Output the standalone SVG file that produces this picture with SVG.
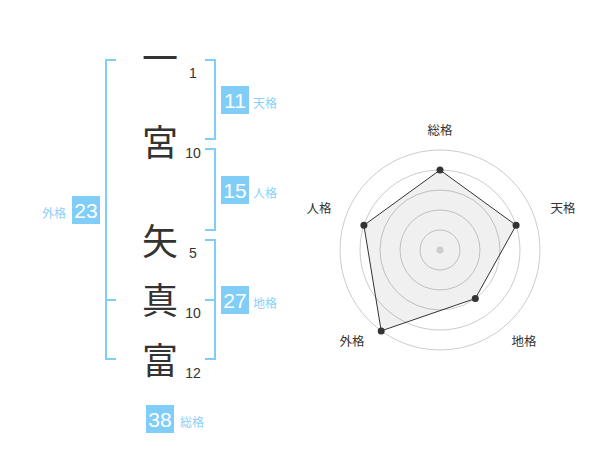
<svg xmlns="http://www.w3.org/2000/svg" width="600" height="470" viewBox="0 0 600 470">
<style>
.k{font-family:"Noto Sans CJK JP","Noto Sans CJK SC",sans-serif;font-size:36px;fill:#333;text-anchor:middle}
.n{font-family:"Liberation Sans",Arial,sans-serif;font-size:14px;fill:#333;text-anchor:middle}
.br{fill:none;stroke:#80cdf8;stroke-width:2}
.box{fill:#80cdf8}
.bn{font-family:"Liberation Sans",Arial,sans-serif;font-size:21px;fill:#fff;text-anchor:middle}
.bl{font-family:"Noto Sans CJK JP","Noto Sans CJK SC",sans-serif;font-size:12px;fill:#8ad0f8}
.ring{fill:none;stroke:#ccc;stroke-width:1}
.rl{font-family:"Noto Sans CJK JP","Noto Sans CJK SC",sans-serif;font-size:12.5px;fill:#333;text-anchor:middle}
.dot{fill:#333}
</style>
<rect width="600" height="470" fill="#fff"/>
<g id="chars">
<text class="k" x="160" y="72">一</text>
<text class="k" x="160" y="156">宮</text>
<text class="k" x="160" y="255">矢</text>
<text class="k" x="160" y="314">真</text>
<text class="k" x="160" y="374">富</text>
</g>
<g id="strokes">
<text class="n" x="193" y="78">1</text>
<text class="n" x="193" y="158">10</text>
<text class="n" x="193" y="258">5</text>
<text class="n" x="193" y="318">10</text>
<text class="n" x="193" y="378">12</text>
</g>
<g id="connectors">
<path class="br" d="M116,60 H106 V359 H116 M106,300 H116"/>
<path class="br" d="M205,60 H215 V139 H205"/>
<path class="br" d="M205,149 H215 V230 H205"/>
<path class="br" d="M205,240 H215 V359 H205 M215,300 H205"/>
</g>
<g id="tenkaku">
<rect class="box" x="221" y="86" width="28" height="28"/>
<text class="bn" x="235" y="107.5">11</text>
<text class="bl" x="253" y="108">天格</text>
</g>
<g id="jinkaku">
<rect class="box" x="221" y="176" width="28" height="28"/>
<text class="bn" x="235" y="197.5">15</text>
<text class="bl" x="253" y="198">人格</text>
</g>
<g id="gaikaku">
<rect class="box" x="72" y="196" width="28" height="28"/>
<text class="bn" x="86" y="217.5">23</text>
<text class="bl" x="42" y="218">外格</text>
</g>
<g id="chikaku">
<rect class="box" x="221" y="286" width="28" height="28"/>
<text class="bn" x="235" y="307.5">27</text>
<text class="bl" x="253" y="308">地格</text>
</g>
<g id="soukaku">
<rect class="box" x="146" y="405" width="28" height="28"/>
<text class="bn" x="160" y="426.5">38</text>
<text class="bl" x="180" y="427">総格</text>
</g>
<g id="radar">
<circle class="ring" cx="440" cy="250" r="20"/>
<circle class="ring" cx="440" cy="250" r="40"/>
<circle class="ring" cx="440" cy="250" r="60"/>
<circle class="ring" cx="440" cy="250" r="80"/>
<circle class="ring" cx="440" cy="250" r="100"/>
<polygon points="440,170 516.1,225.3 475.3,298.5 381.2,330.9 363.9,225.3" fill="#000" fill-opacity="0.06" stroke="#333" stroke-width="1"/>
<circle cx="440" cy="250" r="3.5" fill="#ccc"/>
<circle class="dot" cx="440" cy="170" r="3.5"/>
<circle class="dot" cx="516.1" cy="225.3" r="3.5"/>
<circle class="dot" cx="475.3" cy="298.5" r="3.5"/>
<circle class="dot" cx="381.2" cy="330.9" r="3.5"/>
<circle class="dot" cx="363.9" cy="225.3" r="3.5"/>
<text class="rl" x="440" y="135">総格</text>
<text class="rl" x="563" y="213">天格</text>
<text class="rl" x="319" y="213">人格</text>
<text class="rl" x="352" y="346">外格</text>
<text class="rl" x="524" y="346">地格</text>
</g>
</svg>
